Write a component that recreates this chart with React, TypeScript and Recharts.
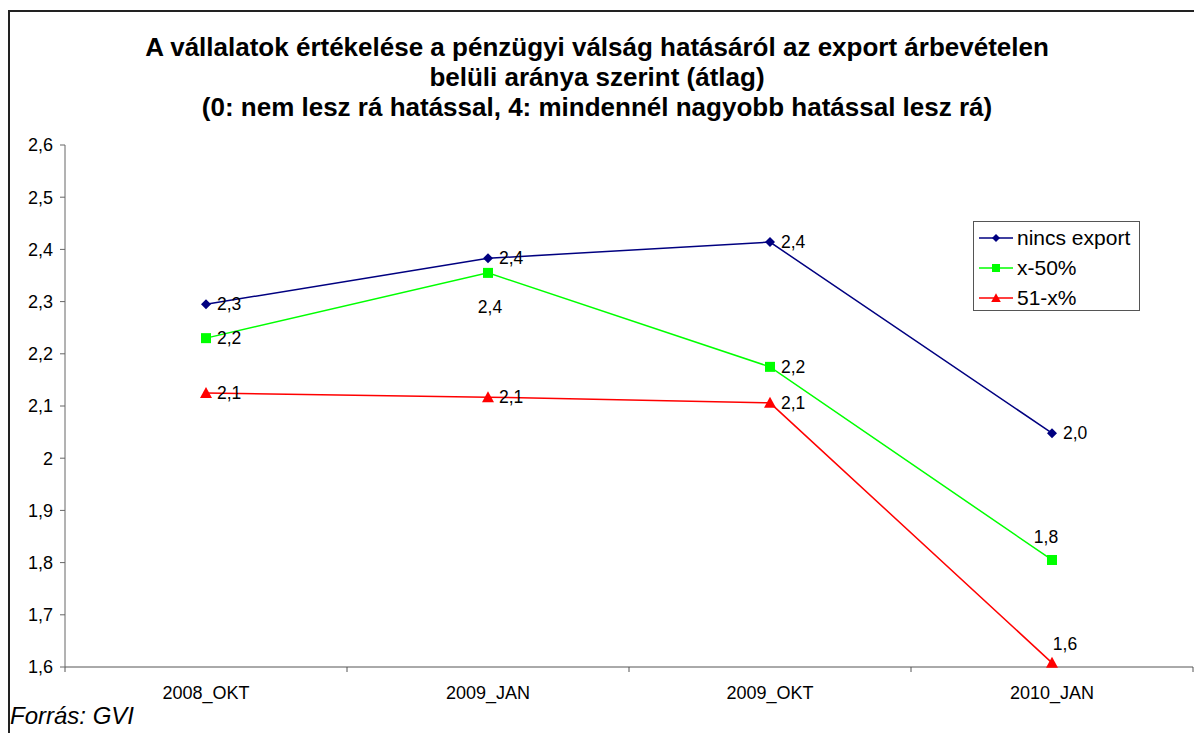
import React from 'react';
import { LineChart, Line, XAxis, YAxis, Legend, LabelList } from 'recharts';

const categories = ['2008_OKT', '2009_JAN', '2009_OKT', '2010_JAN'];
const nincsExport = [2.295, 2.383, 2.414, 2.048];
const x50 = [2.23, 2.355, 2.175, 1.805];
const x51 = [2.125, 2.117, 2.106, 1.608];
const yTicks = [1.6, 1.7, 1.8, 1.9, 2, 2.1, 2.2, 2.3, 2.4, 2.5, 2.6];
const boundaries = [0, 1, 2, 3, 4];

// categories sit in the middle of each band, like Excel's "between tick marks"
const data = categories.map((c, i) => ({
  cat: c,
  pos: i + 0.5,
  nincs: nincsExport[i],
  x50: x50[i],
  x51: x51[i],
}));

const FONT = '"Liberation Sans", Arial, sans-serif';
const comma = (v: number, d?: number) =>
  (d === undefined ? String(Number(v.toFixed(1))) : v.toFixed(d)).replace('.', ',');

const Diamond = ({ cx, cy }: any) => (
  <polygon points={`${cx},${cy - 5} ${cx + 5},${cy} ${cx},${cy + 5} ${cx - 5},${cy}`} fill="#000080" />
);
const Square = ({ cx, cy }: any) => (
  <rect x={cx - 5} y={cy - 5} width={10} height={10} fill="#00ff00" />
);
const Triangle = ({ cx, cy }: any) => (
  <polygon points={`${cx},${cy - 6} ${cx + 6},${cy + 5} ${cx - 6},${cy + 5}`} fill="#ff0000" />
);

// label offset from its marker: [dx, dy, anchor]
type Place = [number, number, 'start' | 'middle'];
const R: Place = [11, 6, 'start'];
const makeLabel = (places: Place[]) => (props: any) => {
  const { x, y, value, index } = props;
  const [dx, dy, anchor] = places[index];
  return (
    <text x={x + dx} y={y + dy} textAnchor={anchor} fontSize={17.5} fontFamily={FONT} fill="#000">
      {comma(value, 1)}
    </text>
  );
};

const legendItems = [
  { name: 'nincs export', color: '#000080', Mark: Diamond },
  { name: 'x-50%', color: '#00ff00', Mark: Square },
  { name: '51-x%', color: '#ff0000', Mark: Triangle },
];

const LegendBox = () => (
  <div style={{ border: '1px solid #555', background: '#fff', width: 167, height: 90, boxSizing: 'border-box', padding: '1px 0 0 5px' }}>
    {legendItems.map(({ name, color, Mark }) => (
      <div key={name} style={{ display: 'flex', alignItems: 'center', height: 30 }}>
        <svg width={36} height={14}>
          <line x1={0} x2={34} y1={7} y2={7} stroke={color} strokeWidth={1.5} />
          <g transform="translate(17,7) scale(0.8) translate(-17,-7)">
            <Mark cx={17} cy={7} />
          </g>
        </svg>
        <span style={{ fontFamily: FONT, fontSize: 21, color: '#000', marginLeft: 2 }}>{name}</span>
      </div>
    ))}
  </div>
);

const NoTick = () => <g />;

const App = () => (
  <div style={{ position: 'absolute', left: 0, top: 0, width: 1194, height: 733, background: '#fff', overflow: 'hidden' }}>
    <div style={{ position: 'absolute', left: 8, top: 10, width: 1200, height: 740, borderLeft: '2px solid #222', borderTop: '2px solid #222' }} />
    <div style={{ position: 'absolute', left: 0, top: 32, width: 1194, textAlign: 'center', fontFamily: FONT, fontWeight: 'bold', fontSize: 26, lineHeight: '30px', color: '#000' }}>
      <div>A vállalatok értékelése a pénzügyi válság hatásáról az export árbevételen</div>
      <div>belüli aránya szerint (átlag)</div>
      <div>(0: nem lesz rá hatással, 4: mindennél nagyobb hatással lesz rá)</div>
    </div>
    <div style={{ position: 'absolute', left: 0, top: 0 }}>
      <LineChart width={1194} height={733} data={data} margin={{ top: 145, right: 1, bottom: 36, left: 8 }}>
        <XAxis dataKey="pos" type="number" domain={[0, 4]} ticks={boundaries} interval={0} height={1}
          tick={<NoTick />} tickSize={5} stroke="#555" allowDataOverflow />
        <XAxis xAxisId="lab" dataKey="cat" tickLine={false} axisLine={false} height={29}
          padding={{ left: 141, right: 141 }}
          tick={{ fontSize: 18, fontFamily: FONT, fill: '#000' }} tickMargin={12} />
        <YAxis domain={[1.6, 2.6]} ticks={yTicks} width={57} tickSize={5} tickMargin={7} stroke="#666"
          tickFormatter={(v: number) => comma(v)} interval={0}
          tick={{ fontSize: 18, fontFamily: FONT, fill: '#000' }} />
        <Legend content={<LegendBox />} layout="horizontal" verticalAlign="middle" align="center"
          wrapperStyle={{ left: 973, top: 221, width: 167 }} />
        <Line dataKey="nincs" name="nincs export" stroke="#000080" strokeWidth={1.5}
          dot={<Diamond />} activeDot={false} isAnimationActive={false}>
          <LabelList dataKey="nincs" content={makeLabel([R, R, R, R])} />
        </Line>
        <Line dataKey="x50" name="x-50%" stroke="#00ff00" strokeWidth={1.5}
          dot={<Square />} activeDot={false} isAnimationActive={false}>
          <LabelList dataKey="x50" content={makeLabel([R, [2, 40, 'middle'], R, [-6, -17, 'middle']])} />
        </Line>
        <Line dataKey="x51" name="51-x%" stroke="#ff0000" strokeWidth={1.5}
          dot={<Triangle />} activeDot={false} isAnimationActive={false}>
          <LabelList dataKey="x51" content={makeLabel([R, R, R, [13, -13, 'middle']])} />
        </Line>
      </LineChart>
    </div>
    <div style={{ position: 'absolute', left: 10, top: 702, fontFamily: FONT, fontStyle: 'italic', fontSize: 24, color: '#000' }}>
      Forrás: GVI
    </div>
  </div>
);

export default App;
